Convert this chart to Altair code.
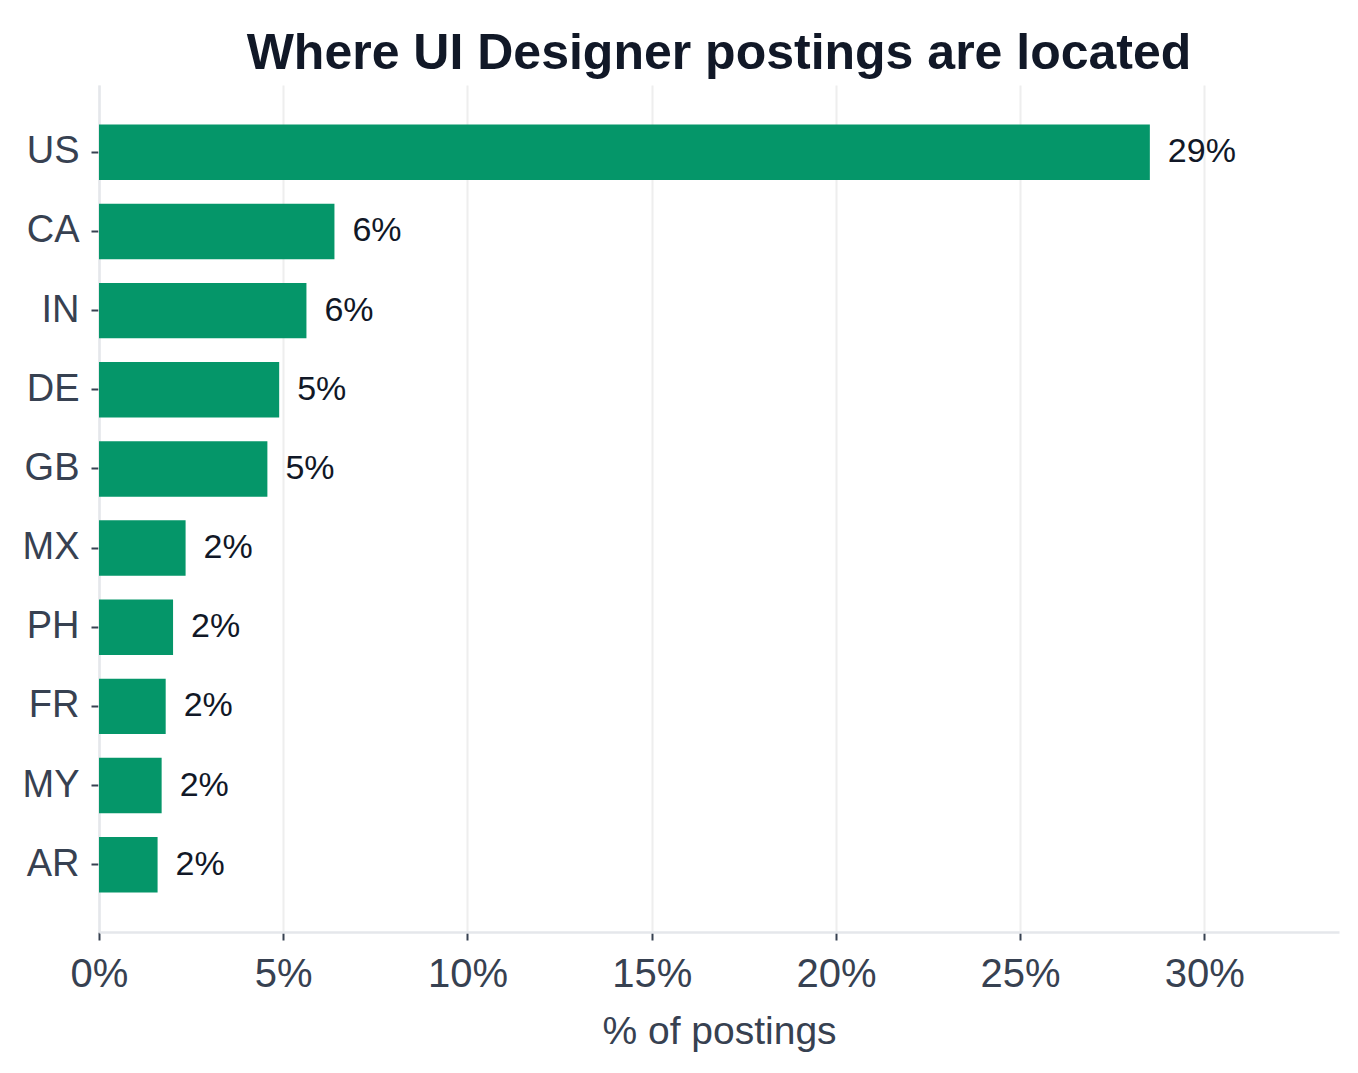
import altair as alt
import pandas as pd

countries = ["US", "CA", "IN", "DE", "GB", "MX", "PH", "FR", "MY", "AR"]
shares = [0.2852, 0.0639, 0.0563, 0.0489, 0.0457, 0.0235, 0.0201, 0.0181, 0.0170, 0.0159]
tick_values = [0, 0.05, 0.10, 0.15, 0.20, 0.25, 0.30]

df = pd.DataFrame({"country": countries, "share": shares})
x_max = max(shares) * 1.18

FONT = "Liberation Sans"
AXIS_TEXT = "#374151"
DARK = "#111827"

x_enc = alt.X(
    "share:Q",
    scale=alt.Scale(domain=[0, x_max], nice=False, zero=True),
    axis=alt.Axis(
        values=tick_values,
        format=".0%",
        title="% of postings",
        labelFontSize=40,
        titleFontSize=39,
        titleFontWeight="normal",
        labelColor=AXIS_TEXT,
        titleColor=AXIS_TEXT,
        labelFont=FONT,
        titleFont=FONT,
        labelFlush=False,
        labelPadding=14,
        titlePadding=18,
        tickColor=AXIS_TEXT,
        tickSize=8,
        tickWidth=2,
        domainColor="#e5e7eb",
        domainWidth=2.5,
        grid=True,
        gridColor="#eeeeee",
        gridWidth=2,
    ),
)
y_enc = alt.Y(
    "country:N",
    sort=countries,
    scale=alt.Scale(paddingInner=0.3, paddingOuter=0.5),
    axis=alt.Axis(
        title=None,
        labelFontSize=38,
        labelColor=AXIS_TEXT,
        labelFont=FONT,
        labelPadding=12,
        tickColor=AXIS_TEXT,
        tickSize=8,
        tickWidth=2,
        domainColor="#e5e7eb",
        domainWidth=2.5,
        grid=False,
    ),
)

bars = alt.Chart(df).mark_bar(color="#059669").encode(x=x_enc, y=y_enc)
labels = alt.Chart(df).mark_text(
    align="left", baseline="middle", dx=18, fontSize=34, font=FONT, color=DARK
).encode(
    x=alt.X("share:Q"),
    y=alt.Y("country:N", sort=countries),
    text=alt.Text("share:Q", format=".0%"),
)

chart = (
    alt.layer(bars, labels)
    .properties(
        width=1240,
        height=847,
        background="white",
        autosize=alt.AutoSizeParams(type="none"),
        padding={"left": 99, "top": 85, "right": 19, "bottom": 141},
        title=alt.TitleParams(
            "Where UI Designer postings are located",
            font=FONT,
            fontSize=50,
            fontWeight="bold",
            color=DARK,
            anchor="middle",
            offset=6,
        ),
    )
    .configure_view(strokeWidth=0, stroke="transparent")
)

chart.save("out.html", embed_options={"renderer": "svg", "actions": False})
